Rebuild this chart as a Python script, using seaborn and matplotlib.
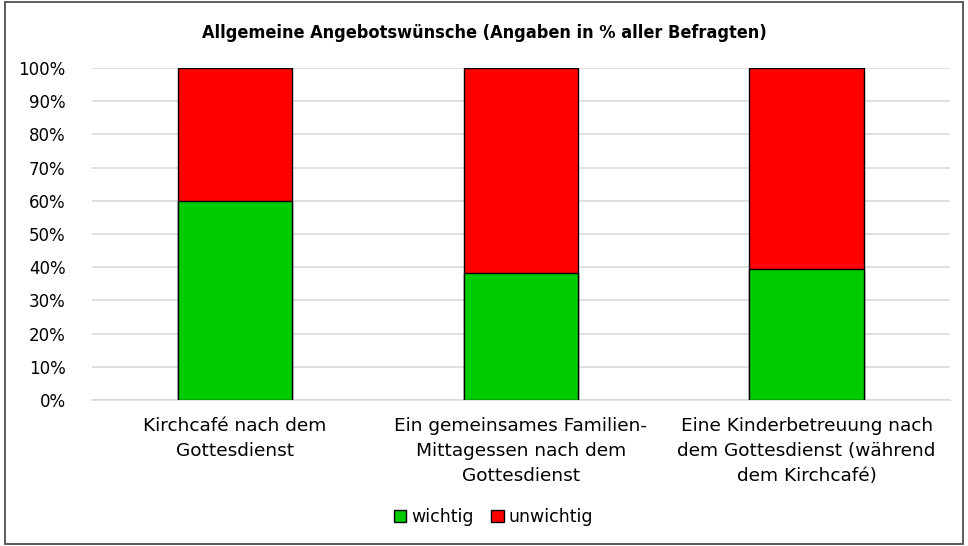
import matplotlib
matplotlib.use("Agg")
import matplotlib.pyplot as plt
import seaborn as sns
import pandas as pd
from matplotlib.patches import Patch, Rectangle

categories = [
    "Kirchcafé nach dem\nGottesdienst",
    "Ein gemeinsames Familien-\nMittagessen nach dem\nGottesdienst",
    "Eine Kinderbetreuung nach\ndem Gottesdienst (während\ndem Kirchcafé)",
]
wichtig = [60.0, 38.2, 39.4]
unwichtig = [40.0, 61.8, 60.6]
series_names = ["wichtig", "unwichtig"]
series_colors = ["#00CC00", "#FF0000"]
y_ticks = list(range(0, 101, 10))
title = "Allgemeine Angebotswünsche (Angaben in % aller Befragten)"

df = pd.DataFrame({"Kategorie": categories, "wichtig": wichtig, "unwichtig": unwichtig})
df["gesamt"] = df["wichtig"] + df["unwichtig"]

sns.set_style("white")
plt.rcParams["font.family"] = ["DejaVu Sans"]
plt.rcParams["text.color"] = "black"
plt.rcParams["xtick.color"] = "black"
plt.rcParams["ytick.color"] = "black"

fig = plt.figure(figsize=(9.68, 5.46), dpi=100)
ax = fig.add_axes([0.095, 0.2674, 0.886, 0.6081])

# stacked: draw the total in red, then the green part over it
sns.barplot(data=df, x="Kategorie", y="gesamt", color=series_colors[1], width=0.4,
            edgecolor="black", linewidth=1, saturation=1, ax=ax, zorder=3)
sns.barplot(data=df, x="Kategorie", y="wichtig", color=series_colors[0], width=0.4,
            edgecolor="black", linewidth=1, saturation=1, ax=ax, zorder=3)

ax.set_xlim(-0.5, 2.5)
ax.set_ylim(0, 100)
ax.set_yticks(y_ticks)
ax.set_yticklabels([f"{t}%" for t in y_ticks], fontsize=12)
ax.tick_params(axis="x", labelsize=13.3, length=0, pad=12)
ax.tick_params(axis="y", length=0, pad=19)
for lbl in ax.get_xticklabels():
    lbl.set_linespacing(1.5)
ax.set_xlabel("")
ax.set_ylabel("")
ax.yaxis.grid(True, color="#D9D9D9", linewidth=1.2, zorder=0)
ax.set_axisbelow(True)
for s in ["top", "right", "left"]:
    ax.spines[s].set_visible(False)
ax.spines["bottom"].set_color("#D9D9D9")
ax.spines["bottom"].set_linewidth(1.2)

fig.text(0.5, 0.94, title, ha="center", va="center", fontsize=13,
         fontweight="bold", fontstretch="condensed", color="black",
         family=["DejaVu Sans"])

handles = [Patch(facecolor=c, edgecolor="black", label=n) for n, c in zip(series_names, series_colors)]
fig.legend(handles=handles, loc="center", bbox_to_anchor=(0.51, 0.053), ncol=2, frameon=False,
           fontsize=12.5, handlelength=0.7, handleheight=0.7, handletextpad=0.3, columnspacing=1.0)

fig.patches.append(Rectangle((0.005, 0.004), 0.99, 0.992, transform=fig.transFigure,
                             fill=False, edgecolor="#404040", linewidth=1.2))

fig.savefig("out.png", dpi=100)
